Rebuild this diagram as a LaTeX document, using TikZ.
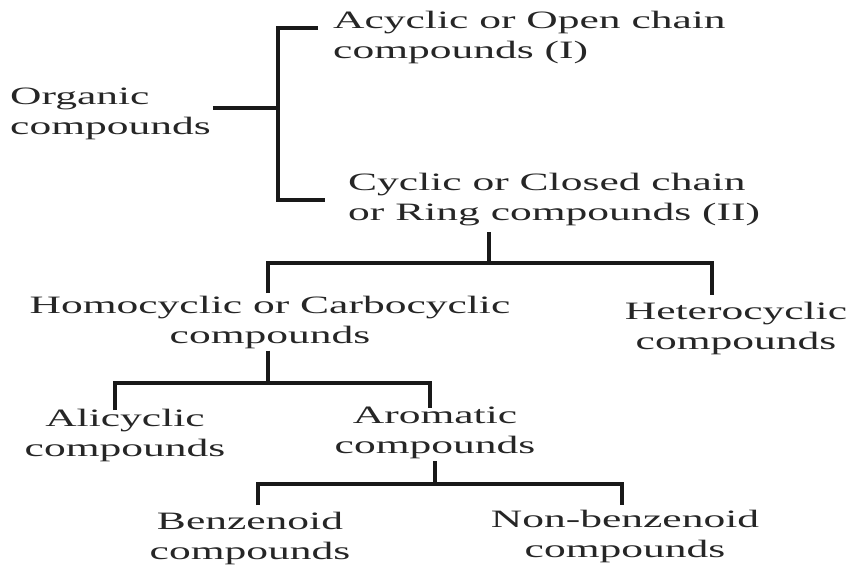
\documentclass[tikz,border=0pt]{standalone}
\usepackage{fontspec}
\setmainfont[FakeStretch=1.74]{Liberation Serif}
\usepackage{tikz}
\usetikzlibrary{positioning}
\tikzset{
    cmpd/.style={inner sep=2pt, text=black!85, font=\fontsize{25}{30}\selectfont}, % text of each class
    link/.style={draw=black!90, line width=3.5pt}, % tree lines
}

\begin{document}
\begin{tikzpicture}[x=1pt, y=-1pt]
        \useasboundingbox (0,0) rectangle (847,566);
        % Nodes
        \node[cmpd, align=left, anchor=west] (org) at (8,114) {Organic\\compounds};
        \node[cmpd, align=left, anchor=west] (acyc) at (331,37) {Acyclic or Open chain\\compounds (I)};
        \node[cmpd, align=left, anchor=west] (cyc) at (346,200) {Cyclic or Closed chain\\or Ring compounds (II)};
        \node[cmpd, align=center] (homo) at (270,322) {Homocyclic or Carbocyclic\\compounds};
        \node[cmpd, align=center] (hetero) at (736,328) {Heterocyclic\\compounds};
        \node[cmpd, align=center] (ali) at (125,435) {Alicyclic\\compounds};
        \node[cmpd, align=center] (arom) at (435,433) {Aromatic\\compounds};
        \node[cmpd, align=center] (benz) at (250,538) {Benzenoid\\compounds};
        \node[cmpd, align=center] (nonb) at (625,536) {Non-benzenoid\\compounds};

        % Junctions
        \coordinate (j0) at (278,108);
        \coordinate (c1) at (489,232);
        \coordinate (c2) at (489,263);
        \coordinate (h2) at (268,383);
        \coordinate (a2) at (435,484);

        % Draw lines
        \draw[link] (org.east |- j0) -- (j0);
        \draw[link] (318,28) -| (j0) |- (325,200);
        \draw[link] (c1) -- (c2);
        \draw[link] (268,293) |- (c2) -| (712,295);
        \draw[link] (homo.south -| h2) -- (h2);
        \draw[link] (115,410) |- (h2) -| (430,408);
        \draw[link] (arom.south) -- (a2);
        \draw[link] (258,505) |- (a2) -| (622,505);
    \end{tikzpicture}
\end{document}
